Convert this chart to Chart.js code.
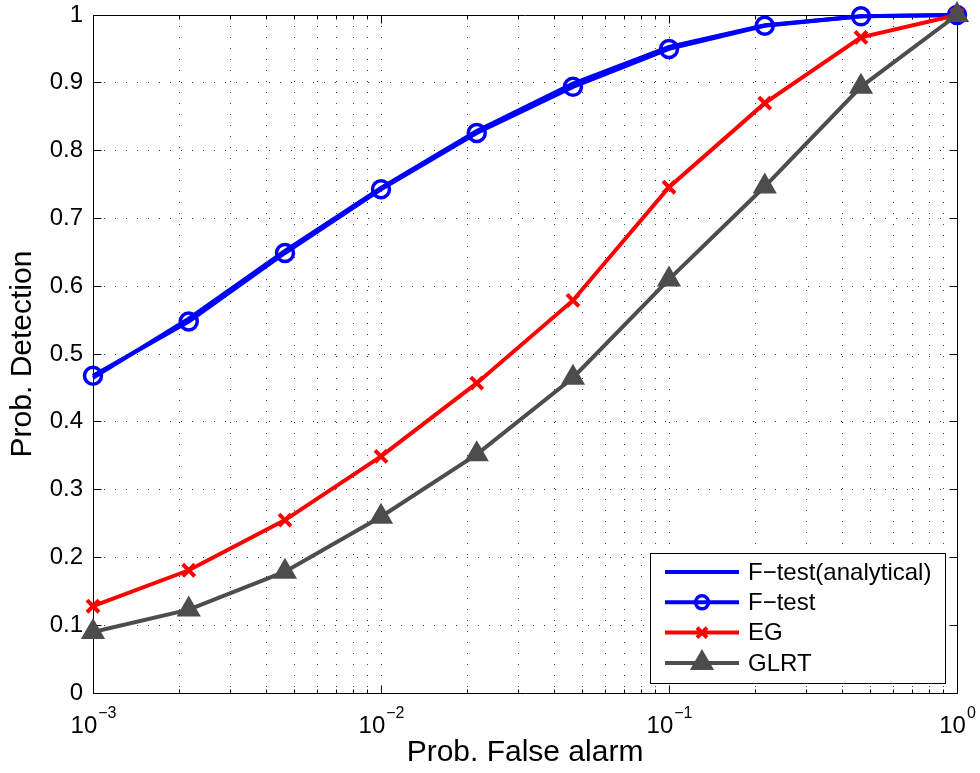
<!DOCTYPE html>
<html>
<head>
<meta charset="utf-8">
<script src="https://cdn.jsdelivr.net/npm/chart.js@4/dist/chart.umd.min.js"></script>
<style>
html,body{margin:0;padding:0;background:#fff;}
#wrap{width:980px;height:773px;}
</style>
</head>
<body>
<div id="wrap"><canvas id="c" width="980" height="773"></canvas></div>
<script>
// ---- data ----
const falseAlarm      = [0.001, 0.00215, 0.00464, 0.01, 0.0215, 0.0464, 0.1, 0.215, 0.464, 1];
const fTestAnalytical = [0.465, 0.552, 0.652, 0.745, 0.829, 0.899, 0.953, 0.985, 0.998, 1.0];
const fTest           = [0.468, 0.548, 0.649, 0.743, 0.826, 0.894, 0.950, 0.984, 0.998, 1.0];
const eg              = [0.128, 0.181, 0.255, 0.349, 0.457, 0.579, 0.746, 0.870, 0.967, 1.0];
const glrt            = [0.090, 0.123, 0.179, 0.260, 0.352, 0.465, 0.610, 0.747, 0.894, 1.0];
const seriesLabels    = ['F\u2212test(analytical)', 'F\u2212test', 'EG', 'GLRT'];
const yTickValues     = [0, 0.1, 0.2, 0.3, 0.4, 0.5, 0.6, 0.7, 0.8, 0.9, 1];
const xDecadeExponents = [-3, -2, -1, 0];
const xTitle = 'Prob. False alarm';
const yTitle = 'Prob. Detection';

const FONT = "'Liberation Sans', Arial, Helvetica, sans-serif";
const BLUE = '#0000ff', RED = '#ff0000', GRAY = '#4d4d4d';

function pts(ys) { return falseAlarm.map((x, i) => ({x: x, y: ys[i]})); }

// minor+major x tick values (1..9 x 10^e)
const xGridValues = [];
xDecadeExponents.forEach(e => {
  for (let m = 1; m <= 9; m++) {
    const v = m * Math.pow(10, e);
    if (v <= 1.0000001) xGridValues.push(+v.toPrecision(6));
  }
});

function al(p) { return Math.round(p - 0.5) + 0.5; }

const decor = {
  id: 'decor',
  beforeDatasetsDraw(chart) {
    const {ctx, scales: {x, y}} = chart;
    const L = al(x.getPixelForValue(1e-3)), R = al(x.getPixelForValue(1));
    const T = al(y.getPixelForValue(1)), B = al(y.getPixelForValue(0));
    ctx.save();
    ctx.setLineDash([]);
    ctx.strokeStyle = '#000';
    ctx.lineWidth = 1;
    ctx.beginPath();
    ctx.rect(L, T, R - L, B - T);
    yTickValues.forEach(v => {
      const py = al(y.getPixelForValue(v));
      ctx.moveTo(L, py); ctx.lineTo(L + 8, py);
      ctx.moveTo(R, py); ctx.lineTo(R - 8, py);
    });
    xGridValues.forEach(v => {
      const px = al(x.getPixelForValue(v));
      const m = Math.round(v / Math.pow(10, Math.floor(Math.log10(v) + 1e-9)));
      const len = (m === 1) ? 8 : 4;
      ctx.moveTo(px, B); ctx.lineTo(px, B - len);
      ctx.moveTo(px, T); ctx.lineTo(px, T + len);
    });
    ctx.stroke();
    ctx.restore();
  },
  afterDraw(chart) {
    const {ctx, scales: {x}} = chart;
    ctx.save();
    ctx.fillStyle = '#000';
    ctx.textBaseline = 'alphabetic';
    ctx.textAlign = 'left';
    // x tick labels 10^e
    xDecadeExponents.forEach(e => {
      const px = x.getPixelForValue(Math.pow(10, e));
      const base = '10';
      const ex = (e < 0 ? '\u2212' : '') + Math.abs(e);
      ctx.font = '24px ' + FONT;
      const w1 = ctx.measureText(base).width;
      ctx.font = '16px ' + FONT;
      const w2 = ctx.measureText(ex).width;
      const start = px - (w1 + w2) / 2;
      ctx.font = '24px ' + FONT;
      ctx.fillText(base, start, 733);
      ctx.font = '16px ' + FONT;
      ctx.fillText(ex, start + w1 + 1, 718);
    });
    // legend
    const bx = 650.5, by = 553.5, bw = 295, bh = 130;
    ctx.fillStyle = '#fff';
    ctx.fillRect(bx, by, bw, bh);
    ctx.strokeStyle = '#000';
    ctx.lineWidth = 1;
    ctx.setLineDash([]);
    ctx.strokeRect(bx, by, bw, bh);
    chart.data.datasets.forEach((ds, i) => {
      const ry = 572 + i * 30.3;
      ctx.save();
      ctx.strokeStyle = ds.borderColor;
      ctx.lineWidth = ds.borderWidth;
      ctx.lineCap = 'butt';
      ctx.beginPath();
      ctx.moveTo(665, ry); ctx.lineTo(739, ry);
      ctx.stroke();
      if (ds.pointRadius > 0) {
        ctx.fillStyle = ds.pointBackgroundColor;
        ctx.strokeStyle = ds.pointBorderColor;
        ctx.lineWidth = ds.pointBorderWidth;
        Chart.helpers.drawPoint(ctx, {
          pointStyle: ds.pointStyle,
          radius: ds.legendRadius,
          borderWidth: ds.pointBorderWidth,
          rotation: 0
        }, 702, ry);
      }
      ctx.restore();
      ctx.fillStyle = '#000';
      ctx.font = '24px ' + FONT;
      ctx.textBaseline = 'middle';
      ctx.fillText(ds.label, 748, ry + 1);
    });
    ctx.restore();
  }
};

const gridCommon = {
  color: 'rgba(0,0,0,0.75)',
  lineWidth: 1,
  drawTicks: false,
  borderDash: [1, 10]
};

new Chart(document.getElementById('c'), {
  type: 'line',
  data: {
    datasets: [
      {
        label: seriesLabels[0], data: pts(fTestAnalytical),
        borderColor: BLUE, borderWidth: 4, pointRadius: 0, pointHoverRadius: 0,
        fill: false, tension: 0, clip: false, order: 3
      },
      {
        label: seriesLabels[1], data: pts(fTest),
        borderColor: BLUE, borderWidth: 4,
        pointStyle: 'circle', pointRadius: 8.5, pointHoverRadius: 8.5, legendRadius: 6.5,
        pointBorderWidth: 3.5, pointBorderColor: BLUE, pointBackgroundColor: 'rgba(0,0,0,0)',
        fill: false, tension: 0, clip: false, order: 2
      },
      {
        label: seriesLabels[2], data: pts(eg),
        borderColor: RED, borderWidth: 4,
        pointStyle: 'crossRot', pointRadius: 8.5, pointHoverRadius: 8.5, legendRadius: 7,
        pointBorderWidth: 4, pointBorderColor: RED, pointBackgroundColor: RED,
        fill: false, tension: 0, clip: false, order: 1
      },
      {
        label: seriesLabels[3], data: pts(glrt),
        borderColor: GRAY, borderWidth: 4,
        pointStyle: 'triangle', pointRadius: 11, pointHoverRadius: 11, legendRadius: 11,
        pointBorderWidth: 3, pointBorderColor: GRAY, pointBackgroundColor: GRAY,
        fill: false, tension: 0, clip: false, order: 0
      }
    ]
  },
  options: {
    responsive: false,
    animation: false,
    devicePixelRatio: 1,
    layout: {padding: {top: 15, right: 23, left: 0, bottom: 0}},
    plugins: {legend: {display: false}, tooltip: {enabled: false}},
    events: [],
    scales: {
      x: {
        type: 'logarithmic',
        min: 0.001, max: 1,
        afterBuildTicks(scale) { scale.ticks = xGridValues.map(v => ({value: v})); },
        afterFit(scale) { scale.height = 80; },
        ticks: {display: false, autoSkip: false},
        grid: gridCommon,
        border: {display: false, dash: [1, 10]},
        title: {
          display: true, text: xTitle, color: '#000',
          font: {family: FONT, size: 30},
          padding: {top: 0, bottom: 2}
        }
      },
      y: {
        type: 'linear',
        min: 0, max: 1,
        afterBuildTicks(scale) { scale.ticks = yTickValues.map(v => ({value: v})); },
        afterFit(scale) { scale.width = 93; },
        ticks: {
          color: '#000', padding: 0, autoSkip: false,
          font: {family: FONT, size: 24},
          callback: (v) => (v === 0 ? '0' : v === 1 ? '1' : (+v).toFixed(1))
        },
        grid: {
          color: 'rgba(0,0,0,0.75)',
          lineWidth: 1,
          drawTicks: true,
          tickLength: 10,
          tickColor: 'rgba(0,0,0,0)',
          borderDash: [1, 10]
        },
        border: {display: false, dash: [1, 10]},
        title: {
          display: true, text: yTitle, color: '#000',
          font: {family: FONT, size: 30},
          padding: {top: 5, bottom: 0}
        }
      }
    }
  },
  plugins: [decor]
});
</script>
</body>
</html>
